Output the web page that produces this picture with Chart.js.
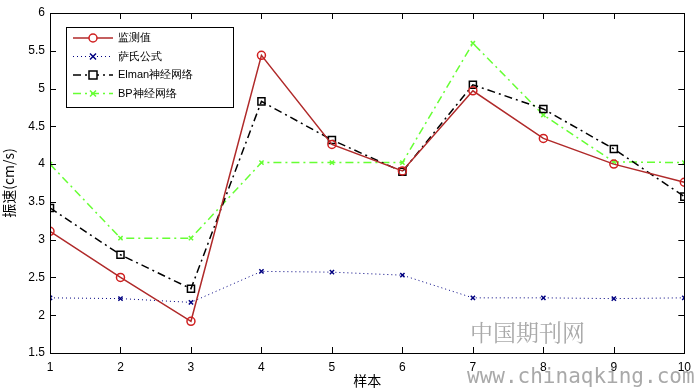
<!DOCTYPE html>
<html><head><meta charset="utf-8">
<script src="https://cdn.jsdelivr.net/npm/chart.js@4.4.0/dist/chart.umd.min.js"></script>
<style>html,body{margin:0;padding:0;background:#fff}#wrap{width:698px;height:389px}</style>
</head><body><div id="wrap"><canvas id="c"></canvas></div>
<script>
const categories = [1,2,3,4,5,6,7,8,9,10];
const measured = [3.11, 2.50, 1.92, 5.44, 4.26, 3.91, 4.97, 4.34, 4.00, 3.76];
const sadovsky = [2.23, 2.22, 2.17, 2.58, 2.57, 2.53, 2.23, 2.23, 2.22, 2.23];
const elman    = [3.42, 2.80, 2.35, 4.83, 4.32, 3.90, 5.05, 4.73, 4.20, 3.57];
const bp       = [4.00, 3.02, 3.02, 4.02, 4.02, 4.02, 5.60, 4.65, 4.03, 4.02];
const yTicks = [1.5,2,2.5,3,3.5,4,4.5,5,5.5,6];
const seriesNames = ['监测值','萨氏公式','Elman神经网络','BP神经网络'];

const FONT = 'Liberation Sans, Arial, sans-serif';
const CJK = '"Noto Sans CJK SC", sans-serif';
const pts = (arr) => arr.map((v,i)=>({x:categories[i], y:v}));

const styles = [
  {color:'#b02a2a', pcolor:'#d02020', dash:[], style:'circle', r:4, w:1.5},
  {color:'#000080', pcolor:'#000080', dash:[1,3], style:'crossRot', r:3, w:1},
  {color:'#000000', pcolor:'#000000', dash:[8,4,2,4], style:'rect', r:5, w:1.5},
  {color:'#66ff33', pcolor:'#66ff33', dash:[8,4,2,4], style:'crossRot', r:3, w:1.5}
];
const dataArrs = [measured, sadovsky, elman, bp];

const framePlugin = {
  id:'frame',
  afterDraw(chart){
    const ctx = chart.ctx, a = chart.chartArea;
    const xs = chart.scales.x, ys = chart.scales.y;
    ctx.save();
    ctx.strokeStyle='#000'; ctx.lineWidth=1;
    ctx.strokeRect(Math.round(a.left)+0.5, Math.round(a.top)+0.5, Math.round(a.right-a.left), Math.round(a.bottom-a.top));
    ctx.beginPath();
    categories.forEach(c=>{
      const px = Math.round(xs.getPixelForValue(c))+0.5;
      ctx.moveTo(px,a.bottom); ctx.lineTo(px,a.bottom-6);
      ctx.moveTo(px,a.top); ctx.lineTo(px,a.top+6);
    });
    yTicks.forEach(t=>{
      const py = Math.round(ys.getPixelForValue(t))+0.5;
      ctx.moveTo(a.left,py); ctx.lineTo(a.left+6,py);
      ctx.moveTo(a.right,py); ctx.lineTo(a.right-6,py);
    });
    ctx.stroke();
    // legend
    const lx=66, ly=27, lw=167, lh=80;
    ctx.fillStyle='#fff'; ctx.fillRect(lx,ly,lw,lh);
    ctx.strokeRect(lx+0.5,ly+0.5,lw,lh);
    ctx.font='11px '+FONT; ctx.textBaseline='middle'; ctx.textAlign='left';
    seriesNames.forEach((n,i)=>{
      const s = styles[i];
      const y = ly+11+i*18.5;
      ctx.strokeStyle=s.color; ctx.lineWidth=s.w; ctx.setLineDash(s.dash);
      ctx.beginPath(); ctx.moveTo(lx+7,y); ctx.lineTo(lx+47,y); ctx.stroke();
      ctx.setLineDash([]);
      ctx.strokeStyle=s.pcolor; ctx.lineWidth=1.5;
      const cx=lx+27;
      if(s.style==='circle'){ctx.fillStyle='#fff';ctx.beginPath();ctx.arc(cx,y,4,0,Math.PI*2);ctx.fill();ctx.stroke();}
      else if(s.style==='rect'){ctx.fillStyle='#fff';ctx.fillRect(cx-4,y-4,8,8);ctx.strokeRect(cx-4,y-4,8,8);}
      else {ctx.beginPath();ctx.moveTo(cx-3,y-3);ctx.lineTo(cx+3,y+3);ctx.moveTo(cx+3,y-3);ctx.lineTo(cx-3,y+3);ctx.stroke();}
      ctx.fillStyle='#000';
      ctx.fillText(n, lx+52, y);
    });
    // watermark
    ctx.fillStyle='rgba(140,140,140,0.75)';
    ctx.textBaseline='alphabetic';
    ctx.font='23px "Noto Serif CJK SC", "Noto Sans CJK SC", serif'; ctx.textAlign='left';
    ctx.fillText('中国期刊网', 470, 341);
    ctx.font='21px "DejaVu Sans Mono", monospace';
    ctx.fillText('www.chinaqking.com', 467, 383);
    ctx.restore();
  }
};

new Chart(document.getElementById('c'), {
  type:'line',
  data:{
    datasets: dataArrs.map((arr,i)=>({
      label: seriesNames[i],
      data: pts(arr),
      borderColor: styles[i].color,
      borderWidth: styles[i].w,
      borderDash: styles[i].dash,
      pointStyle: styles[i].style,
      pointRadius: styles[i].r,
      pointBorderColor: styles[i].pcolor,
      pointBackgroundColor: 'rgba(0,0,0,0)',
      pointBorderWidth: 1.5,
      tension: 0,
      fill:false
    }))
  },
  options:{
    responsive:true, maintainAspectRatio:false, animation:false,
    layout:{padding:{top:13,right:12,left:0,bottom:0}},
    plugins:{legend:{display:false}, tooltip:{enabled:false}},
    scales:{
      x:{type:'linear', min:1, max:10,
        afterBuildTicks(s){s.ticks = categories.map(v=>({value:v}));},
        afterFit(s){s.height=36;},
        grid:{display:false, drawTicks:false}, border:{display:false},
        ticks:{color:'#000', font:{family:FONT,size:12}, padding:7, maxRotation:0, autoSkip:false},
        title:{display:true, text:'样本', color:'#000', font:{family:CJK, size:14}, padding:{top:-4,bottom:0}}
      },
      y:{min:1.5, max:6,
        afterBuildTicks(s){s.ticks = yTicks.map(v=>({value:v}));},
        afterFit(s){s.width=50;},
        grid:{display:false, drawTicks:false}, border:{display:false},
        ticks:{color:'#000', font:{family:FONT,size:12}, padding:5, callback:v=>String(v)},
        title:{display:true, text:'振速(cm/s)', color:'#000', font:{family:CJK, size:14}, padding:{top:0,bottom:0}}
      }
    }
  },
  plugins:[framePlugin]
});
</script></body></html>
